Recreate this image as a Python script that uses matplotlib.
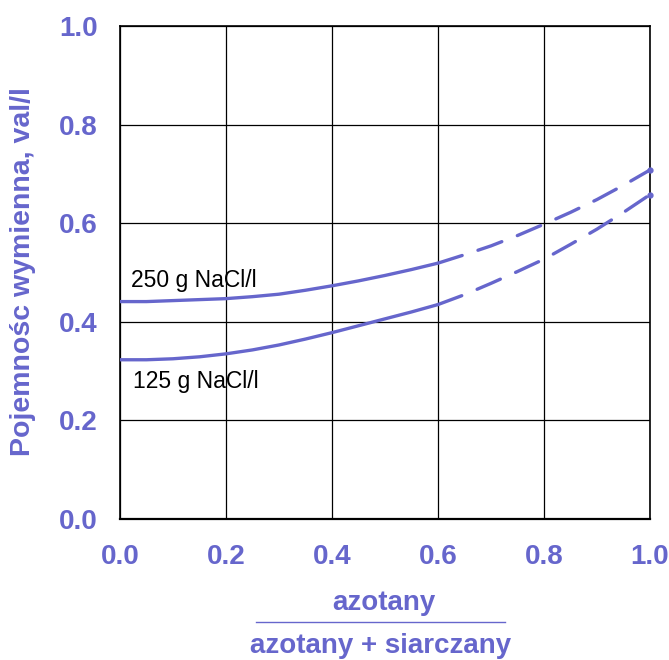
import matplotlib
matplotlib.use("Agg")
import matplotlib.pyplot as plt
from matplotlib.lines import Line2D

# Data
x_vals = [0.0, 0.05, 0.1, 0.15, 0.2, 0.25, 0.3, 0.35, 0.4, 0.45, 0.5, 0.55, 0.6,
          0.65, 0.7, 0.75, 0.8, 0.85, 0.9, 0.95, 1.0]
y_250 = [0.441, 0.441, 0.443, 0.445, 0.447, 0.451, 0.456, 0.464, 0.473, 0.483, 0.494, 0.506, 0.519,
         0.536, 0.554, 0.575, 0.598, 0.622, 0.648, 0.677, 0.708]
y_125 = [0.323, 0.323, 0.325, 0.329, 0.335, 0.343, 0.353, 0.365, 0.378, 0.392, 0.406, 0.420, 0.435,
         0.455, 0.478, 0.502, 0.527, 0.557, 0.588, 0.622, 0.658]
solid_end = 12  # index where measured (solid) part ends; beyond is dashed
ticks = [0.0, 0.2, 0.4, 0.6, 0.8, 1.0]
tick_labels = ["0.0", "0.2", "0.4", "0.6", "0.8", "1.0"]
label_250 = "250 g NaCl/l"
label_125 = "125 g NaCl/l"
ylabel = "Pojemnośc wymienna, val/l"
xlabel_top = "azotany"
xlabel_bottom = "azotany + siarczany"

blue = "#6666CC"
plt.rcParams['font.family'] = ['Liberation Sans', 'DejaVu Sans']

fig = plt.figure(figsize=(6.69, 6.60), dpi=100)
ax = fig.add_axes([120/669, 1-519/660, 530/669, 493/660])

for ys in (y_250, y_125):
    ax.plot(x_vals[:solid_end+1], ys[:solid_end+1], color=blue, lw=2.4,
            solid_capstyle='butt', zorder=3)
    ax.plot(x_vals[solid_end:], ys[solid_end:], color=blue, lw=2.4,
            linestyle=(0, (7.6, 5.0)), dash_capstyle='round', zorder=3)
    ax.plot(x_vals[-1:], ys[-1:], marker='o', ms=3.5, color=blue, zorder=4,
            clip_on=False)

ax.set_xlim(0, 1)
ax.set_ylim(0, 1)
ax.set_xticks(ticks)
ax.set_yticks(ticks)
ax.set_xticklabels(tick_labels)
ax.set_yticklabels(tick_labels)
ax.tick_params(length=0, labelsize=20, labelcolor=blue)
ax.tick_params(axis='x', pad=18)
ax.tick_params(axis='y', pad=16)
for lab in ax.get_xticklabels() + ax.get_yticklabels():
    lab.set_fontweight('bold')
ax.grid(True, color='black', lw=0.9)
ax.set_axisbelow(True)
for sp in ax.spines.values():
    sp.set_color('black')
    sp.set_linewidth(1.2)
ax.spines['bottom'].set_linewidth(1.6)

ax.text(0.021, 0.471, label_250, fontsize=16.5, color='black', va='baseline', ha='left')
ax.text(0.024, 0.266, label_125, fontsize=16.5, color='black', va='baseline', ha='left')

fig.text(23/669, 1-272/660, ylabel, rotation=90, ha='center', va='center',
         fontsize=20.5, fontweight='bold', color=blue)
fig.text(384/669, 1-603/660, xlabel_top, ha='center', va='center',
         fontsize=20, fontweight='bold', color=blue)
fig.add_artist(Line2D([256/669, 505/669], [1-622/660, 1-622/660],
                      transform=fig.transFigure, color=blue, lw=1.0))
fig.text(381/669, 1-646/660, xlabel_bottom, ha='center', va='center',
         fontsize=20, fontweight='bold', color=blue)

fig.savefig("out.png", dpi=100)
